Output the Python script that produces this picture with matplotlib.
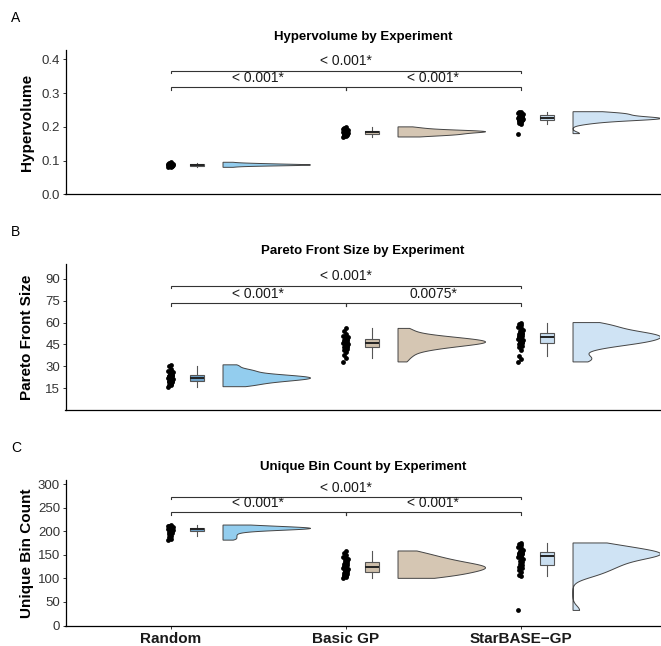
import matplotlib
matplotlib.use("Agg")
import matplotlib.pyplot as plt
import numpy as np

plt.rcParams['font.family'] = ['Liberation Sans', 'DejaVu Sans']

# groups and colours
groups = ["Random", "Basic GP", "StarBASE\u2212GP"]
violin_colors = ["#93cdee", "#d5c6b3", "#cfe3f4"]
box_colors = ["#6fa2c9", "#cdbeaa", "#c9def0"]

# hypervolume per run
hv_random = [0.080, 0.082, 0.083, 0.084, 0.084, 0.085, 0.085, 0.085, 0.086, 0.086,
             0.086, 0.086, 0.087, 0.087, 0.087, 0.087, 0.088, 0.088, 0.088, 0.088,
             0.089, 0.089, 0.089, 0.090, 0.090, 0.091, 0.091, 0.092, 0.093, 0.095]
hv_basic = [0.170, 0.172, 0.174, 0.175, 0.176, 0.177, 0.177, 0.178, 0.179, 0.180,
            0.181, 0.182, 0.183, 0.184, 0.184, 0.185, 0.185, 0.186, 0.186, 0.187,
            0.187, 0.188, 0.188, 0.189, 0.190, 0.191, 0.193, 0.195, 0.197, 0.200]
hv_star = [0.180, 0.208, 0.212, 0.215, 0.217, 0.219, 0.220, 0.221, 0.222, 0.223,
           0.224, 0.224, 0.225, 0.225, 0.226, 0.226, 0.227, 0.228, 0.229, 0.230,
           0.232, 0.234, 0.236, 0.237, 0.238, 0.239, 0.240, 0.241, 0.243, 0.245]

# pareto front size per run
pf_random = [16, 17, 17, 18, 19, 19, 20, 20, 20, 21, 21, 21, 22, 22, 22,
             22, 22, 23, 23, 23, 24, 24, 24, 25, 26, 27, 27, 28, 30, 31]
pf_basic = [33, 36, 38, 40, 41, 42, 43, 43, 44, 44, 45, 45, 46, 46, 46,
            46, 47, 47, 47, 48, 48, 48, 49, 49, 50, 50, 51, 52, 54, 56]
pf_star = [33, 35, 37, 41, 43, 44, 45, 46, 46, 47, 47, 48, 48, 49, 50,
           50, 50, 51, 51, 52, 52, 53, 53, 54, 55, 56, 57, 58, 59, 60]

# unique bin count per run
ub_random = [181, 184, 187, 190, 193, 196, 198, 200, 201, 202, 202, 203, 204, 204, 205,
             205, 205, 206, 206, 206, 207, 207, 208, 208, 209, 209, 210, 211, 212, 213]
ub_basic = [100, 102, 104, 106, 108, 110, 112, 113, 115, 117, 118, 120, 121, 122, 123,
            125, 126, 127, 128, 130, 132, 134, 136, 138, 140, 143, 146, 149, 153, 158]
ub_star = [32, 104, 108, 113, 118, 122, 125, 128, 131, 134, 137, 140, 143, 145, 146,
           148, 150, 151, 152, 153, 154, 155, 157, 159, 161, 164, 167, 170, 173, 175]

titles = ["Hypervolume by Experiment", "Pareto Front Size by Experiment",
          "Unique Bin Count by Experiment"]
ylabels = ["Hypervolume", "Pareto Front Size", "Unique Bin Count"]
letters = ["A", "B", "C"]
p_labels = [["< 0.001*", "< 0.001*", "< 0.001*"],
            ["< 0.001*", "0.0075*", "< 0.001*"],
            ["< 0.001*", "< 0.001*", "< 0.001*"]]


def kde_nrd0(vals, grid):
    v = np.asarray(vals, float)
    n = len(v)
    q1, q3 = np.percentile(v, [25, 75])
    bw = 0.9 * min(v.std(ddof=1), (q3 - q1) / 1.34) * n ** (-0.2)
    z = (grid[:, None] - v[None, :]) / bw
    return np.exp(-0.5 * z ** 2).sum(axis=1) / (n * bw * np.sqrt(2 * np.pi))


fig = plt.figure(figsize=(6.61, 6.46), dpi=100)
W, H = 661, 646

# pixel boxes of the three panels: (top, bottom)
rows = [(50, 194.3), (264.3, 410), (480, 625.5)]
ylims = [(0, 0.428), (0, 100), (0, 308.5)]
yticks = [np.arange(0, 0.41, 0.1), np.arange(15, 91, 15), np.arange(0, 301, 50)]
bracket_y = [(0.317, 0.367), (73.3, 85.4), (240, 273)]

data = [[hv_random, hv_basic, hv_star],
        [pf_random, pf_basic, pf_star],
        [ub_random, ub_basic, ub_star]]

for k in range(3):
    top, bot = rows[k]
    ax = fig.add_axes([65.5 / W, 1 - bot / H, 594.5 / W, (bot - top) / H])
    ymin, ymax = ylims[k]

    for i, vals in enumerate(data[k]):
        vals = np.asarray(vals, float)
        n = len(vals)
        # jittered points
        jit = ((np.arange(n) * 7) % 13 - 6) / 6 * 0.012
        ax.scatter(i + 1 + jit, vals, s=12, color="black", zorder=3, linewidths=0)

        # boxplot
        bp = ax.boxplot([vals], positions=[i + 1.15], widths=0.08, whis=1.5,
                        showfliers=False, patch_artist=True, manage_ticks=False)
        for b in bp['boxes']:
            b.set_facecolor(box_colors[i])
            b.set_edgecolor("#555555")
            b.set_linewidth(0.8)
        for part in bp['whiskers']:
            part.set_color("#555555")
            part.set_linewidth(0.8)
        for part in bp['caps']:
            part.set_visible(False)
        for part in bp['medians']:
            part.set_color("#222222")
            part.set_linewidth(1.4)

        # half violin
        grid = np.linspace(vals.min(), vals.max(), 512)
        d = kde_nrd0(vals, grid)
        d = d / d.max() * 0.5
        base = i + 1.3
        xs = np.concatenate([[base], base + d, [base]])
        ys = np.concatenate([[grid[0]], grid, [grid[-1]]])
        ax.fill(xs, ys, facecolor=violin_colors[i], edgecolor="#444444",
                linewidth=0.7, zorder=2)

    # significance brackets
    lo, hi = bracket_y[k]
    tip = 0.018 * ymax
    lab = p_labels[k]
    for (x0, x1, yb, txt) in [(1, 2, lo, lab[0]), (2, 3, lo, lab[1]), (1, 3, hi, lab[2])]:
        ax.plot([x0, x0, x1, x1], [yb - tip, yb, yb, yb - tip], color="#333333",
                linewidth=0.8, solid_joinstyle="miter")
        ax.annotate(txt, xy=((x0 + x1) / 2, yb), xytext=(0, 1.5), textcoords="offset points",
                    ha="center", va="bottom", fontsize=10, color="#1a1a1a")

    ax.set_xlim(0.4, 3.797)
    ax.set_ylim(ymin, ymax)
    ax.set_yticks(yticks[k])
    if k == 0:
        ax.set_yticklabels(["%.1f" % t for t in yticks[k]])
    ax.tick_params(axis="y", length=2.5, width=0.7, color="#333333",
                   labelsize=9.5, labelcolor="#333333", pad=1.5)
    ax.spines[["top", "right"]].set_visible(False)
    ax.spines[["left", "bottom"]].set_linewidth(0.9)
    if k == 2:
        ax.set_xticks([1, 2, 3])
        ax.set_xticklabels(groups, fontsize=11, fontweight="bold", color="#1a1a1a")
        ax.tick_params(axis="x", length=2.5, width=0.7, color="#333333", pad=2)
    else:
        ax.set_xticks([])

    fig.text(363 / W, 1 - (top - 13) / H, titles[k], ha="center", va="center",
             fontsize=9.5, fontweight="bold")
    fig.text(27 / W, 1 - (top + bot) / 2 / H, ylabels[k], rotation=90, ha="center",
             va="center", fontsize=11, fontweight="bold")
    fig.text(11 / W, 1 - (top - 32) / H, letters[k], ha="left", va="center", fontsize=10)

fig.savefig("out.png", dpi=100)
